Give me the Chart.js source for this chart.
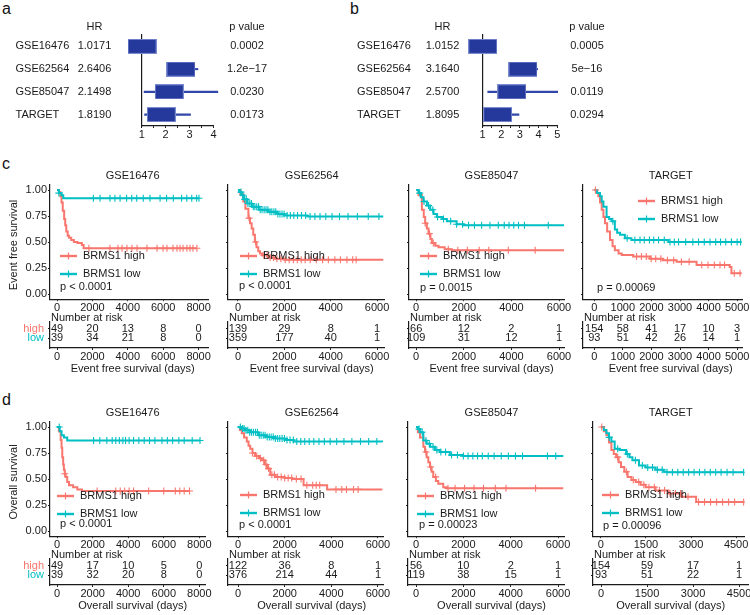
<!DOCTYPE html>
<html>
<head>
<meta charset="utf-8">
<title>BRMS1 survival</title>
<script src="https://cdn.jsdelivr.net/npm/chart.js@4.4.1/dist/chart.umd.min.js"></script>
<style>
  html, body { margin: 0; padding: 0; background: #fff; }
  #page { position: relative; width: 750px; height: 615px; overflow: hidden;
          font-family: 'Liberation Sans', Arial, Helvetica, sans-serif; }
  #page canvas { position: absolute; }
  .tag { position: absolute; font-size: 16px; line-height: 16px; color: #111; }
</style>
</head>
<body>
<div id="page">
  <div class="tag" style="left:2px;top:1px">a</div>
  <div class="tag" style="left:350px;top:1px">b</div>
  <div class="tag" style="left:2px;top:156px">c</div>
  <div class="tag" style="left:2px;top:392px">d</div>
</div>
<script>
// ===== FOREST PLOT DATA =====
const studies = ['GSE16476', 'GSE62564', 'GSE85047', 'TARGET'];

const efsHR = [1.0171, 2.6406, 2.1498, 1.8190];
const efsCILow = [0.95, 2.30, 1.10, 1.12];
const efsCIHigh = [1.10, 3.35, 4.18, 3.04];
const efsPValues = ['0.0002', '1.2e\u221217', '0.0230', '0.0173'];
const efsHRTicks = [1, 2, 3, 4];

const osHR = [1.0152, 3.1640, 2.5700, 1.8095];
const osCILow = [0.95, 2.60, 1.28, 1.10];
const osCIHigh = [1.08, 3.95, 5.02, 2.95];
const osPValues = ['0.0005', '5e\u221216', '0.0119', '0.0294'];
const osHRTicks = [1, 2, 3, 4, 5];

// ===== KAPLAN-MEIER DATA: [days, survival] at each step, censor times =====
const efs16476High = [[0,1],[100,0.98],[180,0.94],[250,0.88],[320,0.80],[400,0.72],[460,0.66],[520,0.60],[600,0.56],[680,0.54],[800,0.52],[950,0.50],[1150,0.49],[1400,0.47],[1500,0.44],[7900,0.44]];
const efs16476Low = [[0,1],[100,0.97],[250,0.95],[350,0.92],[8020,0.92]];
const efs16476HighCens = [1800, 2990, 3440, 3670, 3950, 4230, 4520, 5080, 5650, 5990, 6210, 6550, 6780, 6950, 7120, 7340, 7510, 7680, 7900];
const efs16476LowCens = [100, 2050, 2430, 2990, 3270, 3560, 3930, 4220, 4500, 4870, 5250, 5820, 6190, 6570, 7040, 7330, 7610, 7890, 8020];

const efs62564High = [[0,1],[100,0.96],[230,0.89],[320,0.82],[450,0.73],[520,0.68],[590,0.63],[660,0.57],[730,0.50],[800,0.45],[875,0.41],[950,0.39],[1050,0.37],[1300,0.35],[1600,0.34],[2000,0.33],[6270,0.33]];
const efs62564Low = [[0,1],[60,0.98],[150,0.95],[250,0.91],[400,0.87],[600,0.84],[900,0.81],[1300,0.79],[1700,0.77],[2000,0.755],[3000,0.745],[6270,0.745]];
const efs62564HighCens = [480, 760, 1120, 1260, 1390, 1530, 1680, 1850, 2040, 2210, 2390, 2560, 2730, 2900, 3120, 3380, 3650, 3900, 4180, 4420, 4700, 4950, 5100];
const efs62564LowCens = [130, 210, 290, 360, 430, 510, 580, 660, 730, 810, 890, 960, 1040, 1130, 1210, 1290, 1380, 1460, 1550, 1630, 1720, 1810, 1900, 1990, 2120, 2260, 2410, 2570, 2740, 2920, 3110, 3320, 3540, 3790, 4060, 4380, 4750, 5150, 5620, 6080];

const efs85047High = [[0,1],[100,0.95],[240,0.81],[320,0.74],[380,0.68],[450,0.63],[520,0.58],[600,0.53],[660,0.49],[800,0.465],[940,0.45],[1200,0.43],[1500,0.42],[6220,0.42]];
const efs85047Low = [[0,1],[100,0.97],[200,0.93],[310,0.89],[450,0.85],[590,0.81],[730,0.77],[870,0.74],[1100,0.72],[1290,0.70],[1700,0.67],[2000,0.66],[6220,0.66]];
const efs85047HighCens = [380, 560, 720, 1350, 1750, 2150, 2650, 3050, 3870, 5000];
const efs85047LowCens = [150, 330, 520, 700, 900, 1150, 1450, 1700, 1950, 2200, 2450, 2750, 3100, 3450, 3700, 3900, 4100, 4300, 4550, 5550];

const efsTargetHigh = [[0,1],[80,0.97],[140,0.94],[200,0.88],[260,0.81],[320,0.74],[375,0.68],[450,0.60],[550,0.52],[640,0.46],[720,0.42],[850,0.39],[960,0.375],[1360,0.36],[1950,0.34],[2400,0.325],[2880,0.31],[3580,0.28],[4740,0.26],[4800,0.20],[5150,0.20]];
const efsTargetLow = [[0,1],[100,0.97],[200,0.94],[260,0.89],[320,0.84],[430,0.74],[520,0.72],[610,0.70],[720,0.62],[800,0.59],[900,0.57],[1070,0.535],[1300,0.52],[2600,0.50],[5150,0.50]];
const efsTargetHighCens = [40, 1480, 1650, 1820, 1990, 2150, 2330, 2560, 2780, 3050, 3320, 3760, 3980, 4200, 4400, 4560, 4900, 5100];
const efsTargetLowCens = [650, 1150, 1420, 1600, 1750, 1930, 2080, 2250, 2450, 2650, 2800, 2950, 3200, 3450, 3650, 3850, 4050, 4250, 4420, 4600, 4800, 5000, 5120];

const os16476High = [[0,1],[100,0.96],[200,0.875],[250,0.80],[290,0.71],[340,0.64],[380,0.59],[430,0.55],[480,0.52],[570,0.47],[670,0.44],[900,0.42],[1140,0.40],[1400,0.385],[7450,0.385]];
const os16476Low = [[0,1],[150,0.96],[250,0.92],[380,0.90],[570,0.87],[8040,0.87]];
const os16476HighCens = [430, 2250, 3300, 3550, 3800, 4050, 4300, 5150, 6000, 6650, 6900, 7150, 7450];
const os16476LowCens = [120, 2050, 2400, 2800, 3100, 3300, 3500, 3700, 3850, 4050, 4300, 4600, 4900, 5200, 5500, 5900, 6200, 6500, 6850, 7150, 7600, 8040];

const os62564High = [[0,1],[80,0.97],[160,0.94],[260,0.90],[375,0.86],[450,0.82],[520,0.79],[620,0.75],[730,0.72],[900,0.70],[1020,0.68],[1150,0.64],[1240,0.60],[1380,0.54],[1600,0.52],[2000,0.51],[2310,0.50],[2810,0.44],[3820,0.40],[6190,0.40]];
const os62564Low = [[0,1],[150,0.985],[300,0.968],[500,0.95],[875,0.92],[1200,0.905],[1600,0.89],[2000,0.875],[2380,0.86],[6190,0.856]];
const os62564HighCens = [620, 800, 960, 1100, 1200, 1310, 1450, 1560, 1700, 1850, 2000, 2150, 2300, 2500, 2700, 2950, 3200, 3350, 3500, 4200, 4450, 4650, 4950, 5150];
const os62564LowCens = [100, 190, 260, 340, 420, 500, 580, 660, 750, 830, 910, 990, 1080, 1160, 1250, 1340, 1420, 1510, 1600, 1700, 1790, 1890, 1990, 2100, 2230, 2370, 2520, 2690, 2860, 3050, 3250, 3470, 3700, 3950, 4230, 4540, 4880, 5250, 5600, 5950];

const os85047High = [[0,1],[80,0.95],[170,0.90],[310,0.81],[380,0.76],[450,0.71],[520,0.66],[590,0.615],[660,0.57],[730,0.52],[840,0.48],[940,0.455],[1150,0.42],[1300,0.41],[6220,0.41]];
const os85047Low = [[0,1],[80,0.98],[170,0.95],[310,0.87],[450,0.84],[590,0.81],[800,0.78],[1010,0.76],[1430,0.73],[1990,0.72],[6220,0.72]];
const os85047HighCens = [420, 620, 830, 1350, 1650, 2050, 2450, 2850, 3350, 3800, 5050];
const os85047LowCens = [130, 260, 420, 560, 720, 880, 1050, 1250, 1500, 1750, 2000, 2200, 2400, 2600, 2800, 3050, 3300, 3600, 3900, 4200, 4500, 5550, 5900];

const osTargetHigh = [[0,1],[100,0.96],[185,0.92],[270,0.85],[350,0.78],[430,0.74],[510,0.71],[590,0.66],[670,0.615],[780,0.57],[890,0.52],[1020,0.49],[1160,0.47],[1320,0.445],[1490,0.42],[1820,0.39],[2250,0.36],[2680,0.33],[3170,0.28],[4750,0.28]];
const osTargetLow = [[0,1],[100,0.97],[185,0.94],[270,0.90],[350,0.86],[460,0.79],[620,0.78],[840,0.74],[950,0.71],[1050,0.68],[1270,0.63],[1490,0.61],[1820,0.59],[2090,0.57],[2200,0.565],[4750,0.565]];
const osTargetHighCens = [30, 560, 850, 1080, 1260, 1430, 1600, 1780, 1950, 2120, 2300, 2480, 2650, 2900, 3250, 3450, 3650, 3850, 4050, 4250, 4450, 4750];
const osTargetLowCens = [280, 560, 880, 1150, 1380, 1560, 1720, 1880, 2040, 2200, 2380, 2560, 2740, 2920, 3100, 3280, 3460, 3640, 3820, 4000, 4200, 4400, 4750];

// ===== TICKS =====
const daysTicks8000 = [0, 2000, 4000, 6000, 8000];
const daysTicks6000 = [0, 2000, 4000, 6000];
const daysTicksTargetEfs = [0, 1000, 2000, 3000, 4000, 5000];
const daysTicksTargetOs = [0, 1500, 3000, 4500];
const survivalTicks = [0, 0.25, 0.5, 0.75, 1];

// ===== NUMBER AT RISK =====
const efs16476RiskHigh = [49, 20, 13, 8, 0];
const efs16476RiskLow = [39, 34, 21, 8, 0];
const efs62564RiskHigh = [139, 29, 8, 1];
const efs62564RiskLow = [359, 177, 40, 1];
const efs85047RiskHigh = [66, 12, 2, 1];
const efs85047RiskLow = [109, 31, 12, 1];
const efsTargetRiskHigh = [154, 58, 41, 17, 10, 3];
const efsTargetRiskLow = [93, 51, 42, 26, 14, 1];
const os16476RiskHigh = [49, 17, 10, 5, 0];
const os16476RiskLow = [39, 32, 20, 8, 0];
const os62564RiskHigh = [122, 36, 8, 1];
const os62564RiskLow = [376, 214, 44, 1];
const os85047RiskHigh = [56, 10, 2, 1];
const os85047RiskLow = [119, 38, 15, 1];
const osTargetRiskHigh = [154, 59, 17, 1];
const osTargetRiskLow = [93, 51, 22, 1];

const efsLogRank = ['p < 0.0001', 'p < 0.0001', 'p = 0.0015', 'p = 0.00069'];
const osLogRank = ['p < 0.0001', 'p < 0.0001', 'p = 0.00023', 'p = 0.00096'];
const groupNames = ['BRMS1 high', 'BRMS1 low'];
const riskRowNames = ['high', 'low'];

// ===== STYLE =====
const RED = '#F8766D';
const TEAL = '#00BFC4';
const INK = '#1a1a1a';
const FAMILY = "'Liberation Sans', Arial, Helvetica, sans-serif";
const FONT = '11px ' + FAMILY;
const ROW_STEP = 237;

Chart.defaults.font.family = FAMILY;
Chart.defaults.font.size = 11;
Chart.defaults.color = INK;

const page = document.getElementById('page');

function makeCanvas(left, top, width, height) {
    const c = document.createElement('canvas');
    c.width = width;
    c.height = height;
    c.style.left = left + 'px';
    c.style.top = top + 'px';
    c.style.width = width + 'px';
    c.style.height = height + 'px';
    page.appendChild(c);
    return c;
}

function survivalAt(curve, t) {
    let s = 1;
    curve.forEach(([ct, cs]) => { if (ct <= t) s = cs; });
    return s;
}

// ===== FOREST PLOTS =====
const boxImg = document.createElement('canvas');
boxImg.width = 29;
boxImg.height = 15;
(function () {
    const b = boxImg.getContext('2d');
    b.fillStyle = '#24399b';
    b.fillRect(0, 0, 29, 15);
    b.strokeStyle = '#7b8bcf';
    b.lineWidth = 1;
    b.strokeRect(0.5, 0.5, 28, 14);
})();

const forestText = {
    id: 'forestText',
    afterDraw(chart, args, o) {
        const ctx = chart.ctx;
        const y = chart.scales.y;
        ctx.save();
        ctx.font = FONT;
        ctx.fillStyle = INK;
        ctx.textBaseline = 'middle';
        ctx.textAlign = 'center';
        ctx.fillText('HR', o.hrX, 26.5);
        ctx.fillText('p value', o.pX, 26.5);
        chart.data.labels.forEach((name, i) => {
            const py = y.getPixelForValue(i);
            ctx.textAlign = 'left';
            ctx.fillText(name, o.nameX, py);
            ctx.textAlign = 'center';
            ctx.fillText(o.hr[i].toFixed(4), o.hrX, py);
            ctx.fillText(o.p[i], o.pX, py);
        });
        ctx.restore();
    }
};

function drawForest(f) {
    const H = 146;
    const cv = makeCanvas(f.left, 0, f.width, H);
    const marks = [];
    f.ticks.forEach((t, i) => {
        marks.push(t);
        if (i < f.ticks.length - 1) marks.push((t + f.ticks[i + 1]) / 2);
    });
    new Chart(cv, {
        type: 'bar',
        data: {
            labels: studies,
            datasets: [
                {
                    type: 'bar',
                    data: f.lo.map((l, i) => [l, f.hi[i]]),
                    backgroundColor: '#3148a8',
                    barThickness: 1.4,
                    clip: false,
                    order: 2
                },
                {
                    type: 'line',
                    indexAxis: 'y',
                    data: f.hr,
                    showLine: false,
                    pointStyle: boxImg,
                    pointRadius: 6,
                    clip: false,
                    order: 1
                }
            ]
        },
        options: {
            indexAxis: 'y',
            responsive: false,
            animation: false,
            events: [],
            layout: { padding: { left: f.axisLeft - f.left, right: f.left + f.width - f.axisRight, top: 35, bottom: 0 } },
            plugins: {
                legend: { display: false },
                tooltip: { enabled: false },
                forestText: { nameX: f.nameX - f.left, hrX: f.hrX - f.left, pX: f.pX - f.left, hr: f.hr, p: f.p }
            },
            scales: {
                y: {
                    type: 'category',
                    offset: true,
                    grid: { display: false },
                    ticks: { display: false },
                    border: { display: true, color: INK, width: 1.2 },
                    afterFit: (s) => { s.width = 0; }
                },
                x: {
                    type: 'linear',
                    min: f.ticks[0],
                    max: f.ticks[f.ticks.length - 1],
                    afterBuildTicks: (s) => { s.ticks = marks.map(v => ({ value: v })); },
                    afterFit: (s) => { s.height = H - 126; s.paddingLeft = 0; s.paddingRight = 0; },
                    ticks: {
                        autoSkip: false, maxRotation: 0, padding: 0,
                        callback: (v) => f.ticks.includes(v) ? String(v) : ''
                    },
                    grid: { display: true, drawOnChartArea: false, tickLength: 2, color: INK },
                    border: { display: true, color: INK, width: 1.2 }
                }
            }
        },
        plugins: [forestText]
    });
}

drawForest({ left: 0, width: 375, axisLeft: 141.7, axisRight: 213.5, hr: efsHR, lo: efsCILow, hi: efsCIHigh,
             p: efsPValues, ticks: efsHRTicks, nameX: 15.5, hrX: 94.5, pX: 247 });
drawForest({ left: 340, width: 410, axisLeft: 482.5, axisRight: 557.3, hr: osHR, lo: osCILow, hi: osCIHigh,
             p: osPValues, ticks: osHRTicks, nameX: 357, hrX: 442.5, pX: 587 });

// ===== SURVIVAL PANELS =====
const panels = [
    { row: 0, title: 'GSE16476', x0: 50, x1: 208, xMin: -400, xMax: 8530, titleX: 132.7, ticks: daysTicks8000,
      high: efs16476High, low: efs16476Low, highCens: efs16476HighCens, lowCens: efs16476LowCens,
      riskHigh: efs16476RiskHigh, riskLow: efs16476RiskLow, p: efsLogRank[0], leg: [10, 256], pPos: [10, 287], first: true },
    { row: 0, title: 'GSE62564', x0: 228, x1: 384, xMin: -430, xMax: 6300, titleX: 311.7, ticks: daysTicks6000,
      high: efs62564High, low: efs62564Low, highCens: efs62564HighCens, lowCens: efs62564LowCens,
      riskHigh: efs62564RiskHigh, riskLow: efs62564RiskLow, p: efsLogRank[1], leg: [12, 256], pPos: [11, 286] },
    { row: 0, title: 'GSE85047', x0: 409, x1: 564, xMin: -300, xMax: 6210, titleX: 491.5, ticks: daysTicks6000,
      high: efs85047High, low: efs85047Low, highCens: efs85047HighCens, lowCens: efs85047LowCens,
      riskHigh: efs85047RiskHigh, riskLow: efs85047RiskLow, p: efsLogRank[2], leg: [11, 256], pPos: [11, 288] },
    { row: 0, title: 'TARGET', x0: 583, x1: 742, xMin: -395, xMax: 5170, titleX: 670.7, ticks: daysTicksTargetEfs,
      high: efsTargetHigh, low: efsTargetLow, highCens: efsTargetHighCens, lowCens: efsTargetLowCens,
      riskHigh: efsTargetRiskHigh, riskLow: efsTargetRiskLow, p: efsLogRank[3], leg: [55, 201], pPos: [14, 288] },
    { row: 1, title: 'GSE16476', x0: 50, x1: 205, xMin: -400, xMax: 8320, titleX: 132.7, ticks: daysTicks8000,
      high: os16476High, low: os16476Low, highCens: os16476HighCens, lowCens: os16476LowCens,
      riskHigh: os16476RiskHigh, riskLow: os16476RiskLow, p: osLogRank[0], leg: [7, 259], pPos: [10, 287], first: true },
    { row: 1, title: 'GSE62564', x0: 228, x1: 383, xMin: -430, xMax: 6215, titleX: 311.7, ticks: daysTicks6000,
      high: os62564High, low: os62564Low, highCens: os62564HighCens, lowCens: os62564LowCens,
      riskHigh: os62564RiskHigh, riskLow: os62564RiskLow, p: osLogRank[1], leg: [12, 258], pPos: [11, 288] },
    { row: 1, title: 'GSE85047', x0: 408, x1: 564, xMin: -338, xMax: 6250, titleX: 491.5, ticks: daysTicks6000,
      high: os85047High, low: os85047Low, highCens: os85047HighCens, lowCens: os85047LowCens,
      riskHigh: os85047RiskHigh, riskLow: os85047RiskLow, p: osLogRank[2], leg: [9, 259], pPos: [11, 288] },
    { row: 1, title: 'TARGET', x0: 593, x1: 748, xMin: -261, xMax: 4792, titleX: 670.7, ticks: daysTicksTargetOs,
      high: osTargetHigh, low: osTargetLow, highCens: osTargetHighCens, lowCens: osTargetLowCens,
      riskHigh: osTargetRiskHigh, riskLow: osTargetRiskLow, p: osLogRank[3], leg: [9, 258], pPos: [10, 289] }
];

const kmDecor = {
    id: 'kmDecor',
    afterDraw(chart, args, o) {
        const ctx = chart.ctx;
        const a = chart.chartArea;
        ctx.save();
        ctx.font = FONT;
        ctx.fillStyle = INK;
        ctx.textBaseline = 'middle';
        ctx.textAlign = 'center';
        ctx.fillText(o.title, o.titleX - o.ox, o.titleY - o.oy);

        [RED, TEAL].forEach((color, i) => {
            const x = a.left + o.leg[0];
            const y = o.leg[1] + o.off - o.oy + i * 18;
            ctx.strokeStyle = color;
            ctx.lineWidth = 2.4;
            ctx.beginPath();
            ctx.moveTo(x, y);
            ctx.lineTo(x + 17, y);
            ctx.stroke();
            ctx.lineWidth = 1.2;
            ctx.beginPath();
            ctx.moveTo(x + 8.5, y - 3.5);
            ctx.lineTo(x + 8.5, y + 3.5);
            ctx.stroke();
            ctx.textAlign = 'left';
            ctx.fillText(groupNames[i], x + 23, y);
        });
        ctx.textAlign = 'left';
        ctx.fillText(o.p, a.left + o.pPos[0], o.pPos[1] + o.off - o.oy);

        if (o.yTitle) {
            ctx.translate(14 - o.ox, (a.top + a.bottom) / 2 + 3);
            ctx.rotate(-Math.PI / 2);
            ctx.textAlign = 'center';
            ctx.fillText(o.yTitle, 0, 0);
        }
        ctx.restore();
    }
};

const riskText = {
    id: 'riskText',
    afterDraw(chart, args, o) {
        const ctx = chart.ctx;
        const a = chart.chartArea;
        ctx.save();
        ctx.font = FONT;
        ctx.fillStyle = INK;
        ctx.textBaseline = 'middle';
        ctx.textAlign = 'left';
        ctx.fillText('Number at risk', a.left + 1, o.headY);
        ctx.textAlign = 'center';
        chart.data.datasets.forEach((ds, di) => {
            chart.getDatasetMeta(di).data.forEach((pt, i) => {
                ctx.fillText(String(ds.risk[i]), pt.x, pt.y);
            });
        });
        if (o.rowNames) {
            ctx.textAlign = 'right';
            chart.data.datasets.forEach((ds, di) => {
                ctx.fillStyle = ds.nameColor;
                ctx.fillText(riskRowNames[di], a.left - 6, chart.getDatasetMeta(di).data[0].y);
            });
        }
        ctx.fillStyle = INK;
        ctx.textAlign = 'center';
        ctx.fillText(o.xTitle, o.titleX, o.xTitleY);
        ctx.restore();
    }
};

function daysAxis(p, height) {
    return {
        type: 'linear',
        min: p.xMin,
        max: p.xMax,
        afterBuildTicks: (s) => { s.ticks = p.ticks.map(v => ({ value: v })); },
        afterFit: (s) => { s.height = height; s.paddingLeft = 0; s.paddingRight = 0; },
        ticks: { autoSkip: false, maxRotation: 0, padding: 0, callback: (v) => String(v) },
        grid: { display: true, drawOnChartArea: false, tickLength: 2, color: INK },
        border: { display: true, color: INK, width: 1.2 }
    };
}

function drawSurvival(p) {
    const off = p.row * ROW_STEP;
    const plotTop = 184.8 + off;
    const plotBottom = 299.2 + off;
    const left = p.x0 - 50;
    const top = 160 + off;
    const padR = Math.min(12, 750 - p.x1);
    const w = p.x1 + padR - left;
    const h = Math.round(plotBottom + 16 - top);
    const cv = makeCanvas(left, top, w, h);

    const toPts = (curve) => curve.map(([t, s]) => ({ x: t, y: s }));
    const censPts = (curve, times) => times.map(t => ({ x: t, y: survivalAt(curve, t) }));
    const cross = { showLine: false, pointStyle: 'cross', pointRadius: 3.5, borderWidth: 1.1 };
    const step = { showLine: true, stepped: true, borderWidth: 2, pointRadius: 0 };

    new Chart(cv, {
        type: 'scatter',
        data: {
            datasets: [
                { data: censPts(p.low, p.lowCens), borderColor: TEAL, backgroundColor: TEAL, ...cross },
                { data: censPts(p.high, p.highCens), borderColor: RED, backgroundColor: RED, ...cross },
                { data: toPts(p.low), borderColor: TEAL, ...step },
                { data: toPts(p.high), borderColor: RED, ...step }
            ]
        },
        options: {
            responsive: false,
            animation: false,
            events: [],
            layout: { padding: { top: plotTop - top, right: padR, left: 0, bottom: 0 } },
            plugins: {
                legend: { display: false },
                tooltip: { enabled: false },
                kmDecor: {
                    ox: left, oy: top, off: off, title: p.title, titleX: p.titleX, titleY: 176 + off,
                    leg: p.leg, pPos: p.pPos, p: p.p,
                    yTitle: p.first ? (p.row === 0 ? 'Event free survival' : 'Overall survival') : null
                }
            },
            scales: {
                x: daysAxis(p, h - (plotBottom - top)),
                y: {
                    type: 'linear',
                    min: -0.05,
                    max: 1.05,
                    afterBuildTicks: (s) => { s.ticks = survivalTicks.map(v => ({ value: v })); },
                    afterFit: (s) => { s.width = 50; s.paddingTop = 0; s.paddingBottom = 0; },
                    ticks: { padding: 1, callback: (v) => p.first ? v.toFixed(2) : '' },
                    grid: { display: true, drawOnChartArea: false, tickLength: 2, color: INK },
                    border: { display: true, color: INK, width: 1.2 }
                }
            }
        },
        plugins: [kmDecor]
    });

    // risk table
    const rTop = 305 + off;
    const rArea = 322 + off;
    const rBottom = 348 + off;
    const rh = 71;
    const rc = makeCanvas(left, rTop, w, rh);
    new Chart(rc, {
        type: 'scatter',
        data: {
            datasets: [
                { data: p.ticks.map(t => ({ x: t, y: 2 })), risk: p.riskHigh, nameColor: RED, pointRadius: 0 },
                { data: p.ticks.map(t => ({ x: t, y: 1 })), risk: p.riskLow, nameColor: TEAL, pointRadius: 0 }
            ]
        },
        options: {
            responsive: false,
            animation: false,
            events: [],
            layout: { padding: { top: rArea - rTop, right: padR, left: 0, bottom: 0 } },
            plugins: {
                legend: { display: false },
                tooltip: { enabled: false },
                riskText: {
                    headY: 318 + off - rTop,
                    rowNames: !!p.first,
                    xTitle: p.row === 0 ? 'Event free survival (days)' : 'Overall survival (days)',
                    titleX: p.titleX - left,
                    xTitleY: 369 + off - rTop
                }
            },
            scales: {
                x: daysAxis(p, rh - (rBottom - rTop)),
                y: {
                    type: 'linear',
                    min: 0,
                    max: 2.7,
                    afterBuildTicks: (s) => { s.ticks = [{ value: 1 }, { value: 2 }]; },
                    afterFit: (s) => { s.width = 50; s.paddingTop = 0; s.paddingBottom = 0; },
                    ticks: { callback: () => '' },
                    grid: { display: true, drawOnChartArea: false, tickLength: 2, color: INK },
                    border: { display: true, color: INK, width: 1.2 }
                }
            }
        },
        plugins: [riskText]
    });
}

panels.forEach(drawSurvival);
</script>
</body>
</html>
